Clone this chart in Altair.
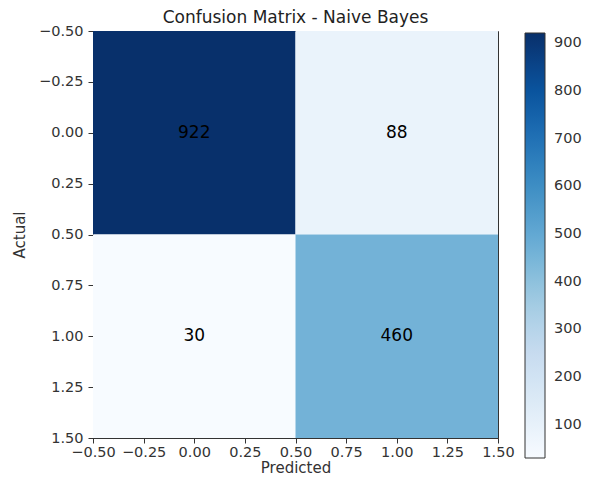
import altair as alt
import pandas as pd

actual = [0, 0, 1, 1]
predicted = [0, 1, 0, 1]
counts = [922, 88, 30, 460]
ticks = [-0.5, -0.25, 0.0, 0.25, 0.5, 0.75, 1.0, 1.25, 1.5]
cbar_ticks = [100, 200, 300, 400, 500, 600, 700, 800, 900]
blues = ["#f7fbff", "#deebf7", "#c6dbef", "#9ecae1", "#6baed6",
         "#4292c6", "#2171b5", "#08519c", "#08306b"]

df = pd.DataFrame({"actual": actual, "predicted": predicted, "count": counts})
df["x0"] = df["predicted"] - 0.5
df["x1"] = df["predicted"] + 0.5
df["y0"] = df["actual"] - 0.5
df["y1"] = df["actual"] + 0.5

FONT = "DejaVu Sans"
xs = alt.Scale(domain=[-0.5, 1.5], nice=False, zero=False)
ys = alt.Scale(domain=[-0.5, 1.5], nice=False, zero=False, reverse=True)

rect = alt.Chart(df).mark_rect().encode(
    x=alt.X("x0:Q", scale=xs, title="Predicted",
            axis=alt.Axis(values=ticks, format=".2f", grid=False, titlePadding=2,
                          labelPadding=2, labelOverlap=False, labelFlush=False)),
    x2="x1:Q",
    y=alt.Y("y0:Q", scale=ys, title="Actual",
            axis=alt.Axis(values=ticks, format=".2f", grid=False, titlePadding=11,
                          labelPadding=5, labelOverlap=False, labelFlush=False)),
    y2="y1:Q",
    color=alt.Color("count:Q",
                    scale=alt.Scale(domain=[30, 922], range=blues),
                    legend=alt.Legend(title=None, values=cbar_ticks,
                                      gradientLength=425, gradientThickness=20,
                                      orient="none", legendX=432, legendY=2,
                                      padding=0,
                                      labelFontSize=14.5, labelColor="#333333",
                                      labelFont=FONT, labelOffset=9,
                                      labelOverlap=False,
                                      gradientStrokeColor="#333333",
                                      gradientStrokeWidth=1)),
)

text = alt.Chart(df).mark_text(fontSize=17, font=FONT, color="black").encode(
    x=alt.X("predicted:Q", scale=xs),
    y=alt.Y("actual:Q", scale=ys),
    text="count:Q",
)

chart = (rect + text).properties(
    width=405, height=407,
    title=alt.Title("Confusion Matrix - Naive Bayes", fontSize=17,
                    fontWeight="normal", font=FONT, color="#222222", offset=-4),
    autosize=alt.AutoSizeParams(type="none"),
    padding={"left": 85, "top": 23, "right": 84, "bottom": 39},
).configure_view(
    stroke="#333333", strokeWidth=1
).configure_axis(
    labelFont=FONT, labelFontSize=14.5, labelColor="#333333",
    titleFont=FONT, titleFontSize=15, titleFontWeight="normal", titleColor="#333333",
    domainColor="#333333", tickColor="#333333", tickSize=5,
)

chart.save("out.html", embed_options={"renderer": "svg", "actions": False})
